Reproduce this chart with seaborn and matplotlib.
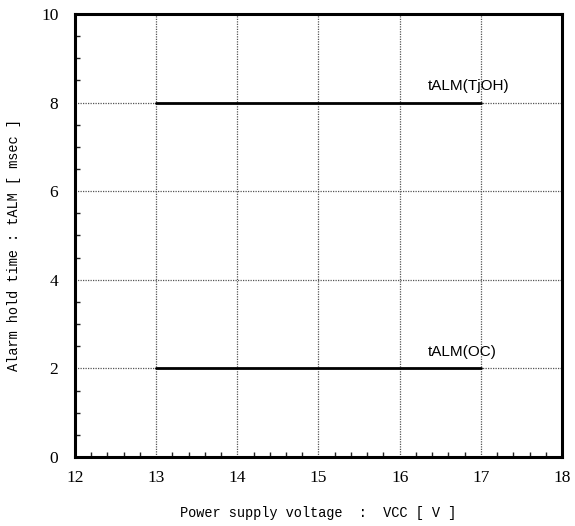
import numpy as np
import pandas as pd
import matplotlib
matplotlib.use("Agg")
import matplotlib.pyplot as plt
from matplotlib.ticker import MultipleLocator
import seaborn as sns

# Alarm hold time vs. supply voltage
vcc = [13, 17]
talm_tjoh = [8, 8]
talm_oc = [2, 2]
series_names = ["tALM(TjOH)", "tALM(OC)"]
x_ticks = [12, 13, 14, 15, 16, 17, 18]
y_ticks = [0, 2, 4, 6, 8, 10]

df = pd.DataFrame({
    "vcc": vcc + vcc,
    "talm": talm_tjoh + talm_oc,
    "series": [series_names[0]] * len(vcc) + [series_names[1]] * len(vcc),
})

sns.set_style("white")
plt.rcParams["font.family"] = ["Liberation Serif", "DejaVu Serif"]

fig = plt.figure(figsize=(5.75, 5.26), dpi=100)
ax = fig.add_axes([75 / 575, 1 - 457 / 526, (562 - 75) / 575, (457 - 14) / 526])

sns.lineplot(data=df, x="vcc", y="talm", units="series", estimator=None,
             color="black", linewidth=2.0, ax=ax, legend=False, zorder=3)

ax.set_xlim(12, 18)
ax.set_ylim(0, 10)
ax.set_xticks(x_ticks)
ax.set_yticks(y_ticks)
ax.xaxis.set_minor_locator(MultipleLocator(0.2))
ax.yaxis.set_minor_locator(MultipleLocator(0.5))
ax.tick_params(axis="both", which="both", direction="in", bottom=True, left=True,
               top=False, right=False, labelsize=12.5, colors="black")
ax.tick_params(axis="both", which="major", length=0)
ax.tick_params(axis="both", which="minor", length=3.5, width=1, color="#222222")
ax.tick_params(axis="x", which="major", pad=9)
ax.tick_params(axis="y", which="major", pad=12)

ax.grid(True, which="major", color="#555555", linestyle=(0, (1, 1)), linewidth=0.9)
for s in ax.spines.values():
    s.set_visible(True)
    s.set_color("black")
    s.set_linewidth(2.2)

mono = ["Liberation Mono", "DejaVu Sans Mono"]
ax.set_xlabel("Power supply voltage  :  VCC [ V ]", family=mono, fontsize=9.8, color="black")
ax.set_ylabel("Alarm hold time : tALM [ msec ]", family=mono, fontsize=9.8, color="black")
ax.xaxis.set_label_coords(0.5, -0.11)
ax.yaxis.set_label_coords(-0.11, 0.479)

ax.text(16.35, 8.38, series_names[0], ha="left", va="center",
        family=["Liberation Sans", "DejaVu Sans"], fontsize=11, color="black")
ax.text(16.35, 2.36, series_names[1], ha="left", va="center",
        family=["Liberation Sans", "DejaVu Sans"], fontsize=11, color="black")

fig.savefig("out.png", dpi=100, facecolor="white")
